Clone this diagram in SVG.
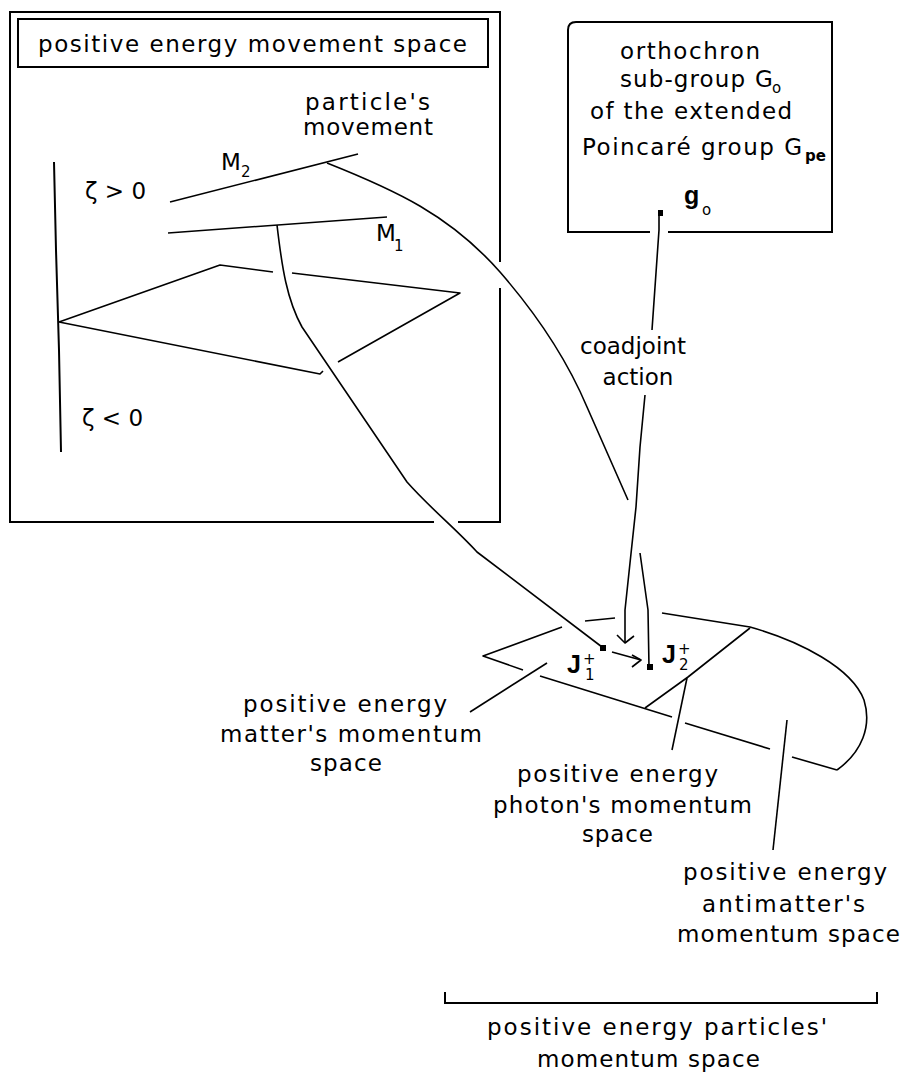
<svg xmlns="http://www.w3.org/2000/svg" width="904" height="1073" viewBox="0 0 904 1073">
<style>
  .ln{fill:none;stroke:#000;stroke-width:1.6;stroke-linejoin:round;stroke-linecap:butt}
  .bx{fill:none;stroke:#000;stroke-width:2}
  .t{font-family:"DejaVu Sans","Liberation Sans",sans-serif;font-size:23px;fill:#000}
  .s{font-family:"DejaVu Sans","Liberation Sans",sans-serif;font-size:15px;fill:#000}
  .b{font-family:"Liberation Sans","DejaVu Sans",sans-serif;font-weight:bold;font-size:25px;fill:#000}
</style>
<rect width="904" height="1073" fill="#fff"/>

<g id="movement-space">
  <path class="bx" d="M500,262 V12 H10 V522 H434 M458,522 H500 V288"/>
  <rect class="bx" x="18" y="19" width="470" height="48"/>
  <text class="t" x="38" y="52" textLength="429" lengthAdjust="spacing">positive energy movement space</text>
  <polyline class="bx" points="54,162 56,250 59,350 61,452"/>
  <text class="t" x="85" y="199" font-size="21">ζ &gt; 0</text>
  <text class="t" x="82" y="426" font-size="21">ζ &lt; 0</text>
  <polyline class="ln" points="273,272 220,265 59,322 320,374 323,371"/>
  <polyline class="ln" points="292,273 460,293 338,362"/>
</g>

<g id="m2">
  <line class="ln" x1="170" y1="202" x2="358" y2="154"/>
  <text class="t" x="221" y="170">M</text>
  <text class="s" x="241" y="177">2</text>
</g>

<g id="m1">
  <line class="ln" x1="168" y1="233" x2="387" y2="217"/>
  <text class="t" x="376" y="241">M</text>
  <text class="s" x="394" y="251">1</text>
</g>

<g id="particle-label">
  <text class="t" x="305" y="110" textLength="125" lengthAdjust="spacing">particle's</text>
  <text class="t" x="303" y="135" textLength="130" lengthAdjust="spacing">movement</text>
</g>

<g id="group-box">
  <path class="bx" d="M650,232 H568 V30 Q568,22 576,22 H832 V232 H668"/>
  <text class="t" x="620" y="59" textLength="140" lengthAdjust="spacing">orthochron</text>
  <text class="t" x="620" y="87" textLength="125" lengthAdjust="spacing">sub-group</text>
  <text class="t" x="755" y="87">G</text>
  <text class="s" x="772" y="93">o</text>
  <text class="t" x="590" y="119" textLength="202" lengthAdjust="spacing">of the extended</text>
  <text class="t" x="582" y="155" textLength="220" lengthAdjust="spacing">Poincaré group G</text>
  <text class="s" x="805" y="161" font-weight="bold">pe</text>
  <text class="b" x="684" y="204" font-size="23">g</text>
  <text class="s" x="702" y="215" font-size="13">o</text>
  <rect x="658" y="210" width="5" height="6" fill="#000"/>
</g>

<g id="coadjoint-label">
  <text class="t" x="633" y="354" font-size="21" text-anchor="middle">coadjoint</text>
  <text class="t" x="638" y="385" font-size="21" text-anchor="middle">action</text>
</g>

<g id="momentum-space">
  <polyline class="ln" points="562,627 483,656 523,670"/>
  <line class="ln" x1="585" y1="621" x2="615" y2="618"/>
  <path class="ln" d="M662,613 L750,627 C800,641 852,668 864,700 C872,726 862,752 837,770"/>
  <polyline class="ln" points="540,676 672,717"/>
  <polyline class="ln" points="685,723 770,749"/>
  <polyline class="ln" points="792,757 837,770"/>
  <polyline class="ln" points="750,628 688,677 645,708"/>
  <text class="b" x="567" y="673">J</text>
  <text class="s" x="583" y="664" font-size="17">+</text>
  <text class="s" x="585" y="680">1</text>
  <text class="b" x="662" y="663">J</text>
  <text class="s" x="678" y="654" font-size="17">+</text>
  <text class="s" x="679" y="670">2</text>
  <rect x="600" y="645" width="6" height="6" fill="#000"/>
  <rect x="647" y="664" width="6" height="6" fill="#000"/>
</g>

<g id="matter-label">
  <text class="t" x="243" y="712" textLength="204" lengthAdjust="spacing">positive energy</text>
  <text class="t" x="220" y="742" textLength="262" lengthAdjust="spacing">matter's momentum</text>
  <text class="t" x="310" y="771" textLength="72" lengthAdjust="spacing">space</text>
</g>

<g id="photon-label">
  <text class="t" x="517" y="782" textLength="201" lengthAdjust="spacing">positive energy</text>
  <text class="t" x="493" y="813" textLength="259" lengthAdjust="spacing">photon's momentum</text>
  <text class="t" x="582" y="842" textLength="71" lengthAdjust="spacing">space</text>
</g>

<g id="antimatter-label">
  <text class="t" x="683" y="880" textLength="204" lengthAdjust="spacing">positive energy</text>
  <text class="t" x="702" y="912" textLength="163" lengthAdjust="spacing">antimatter's</text>
  <text class="t" x="677" y="942" textLength="223" lengthAdjust="spacing">momentum space</text>
</g>

<g id="particles-label">
  <path class="bx" d="M445,992 V1003 H877 V992"/>
  <text class="t" x="487" y="1035" textLength="340" lengthAdjust="spacing">positive energy particles'</text>
  <text class="t" x="537" y="1067" textLength="223" lengthAdjust="spacing">momentum space</text>
</g>

<g id="connectors">
  <path class="ln" d="M277,225 C282,268 287,300 302,327 L407,482 C430,508 455,528 477,552 L602,647"/>
  <path class="ln" d="M327,163 C395,190 450,215 500,272 C540,318 568,362 587,407 L628,500"/>
  <path class="ln" d="M640,553 L648,610 L649,667"/>
  <polyline class="ln" points="659,216 659,230 652,330"/>
  <polyline class="ln" points="645,395 640,447 636,507 630,563 625,610 625,643"/>
  <polyline class="ln" points="617,635 625,643 634,636"/>
  <line class="ln" x1="612" y1="652" x2="641" y2="660"/>
  <polyline class="ln" points="632,655 641,660 632,667"/>
  <line class="ln" x1="547" y1="663" x2="470" y2="712"/>
  <line class="ln" x1="687" y1="678" x2="672" y2="750"/>
  <line class="ln" x1="787" y1="720" x2="773" y2="850"/>
</g>
</svg>
